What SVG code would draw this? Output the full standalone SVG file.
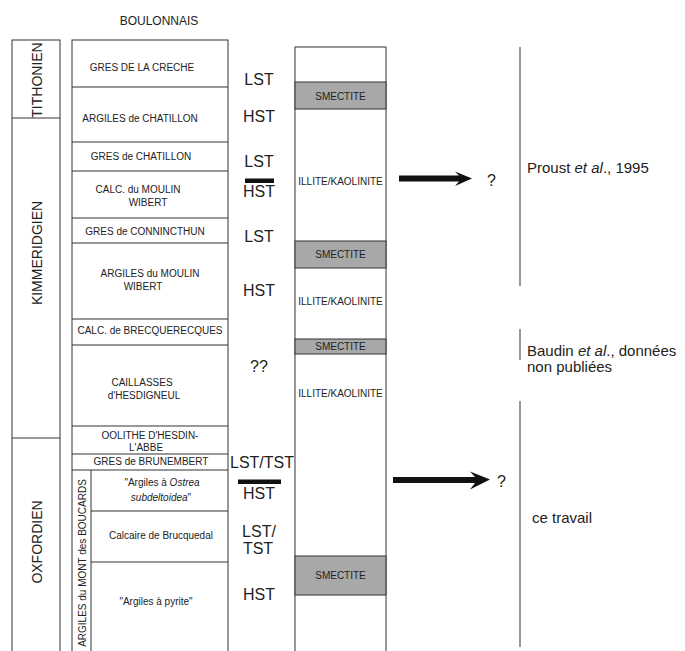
<svg xmlns="http://www.w3.org/2000/svg" width="685" height="651" viewBox="0 0 685 651">
<style>
.ln{stroke:#333;stroke-width:1;fill:none}
.box{stroke:#333;stroke-width:1;fill:#fff}
.sm{stroke:#333;stroke-width:1;fill:#a8a8a8}
.t{font-family:"Liberation Sans",Arial,sans-serif;fill:#222}
.lith{font-size:10px;text-anchor:middle}
.stage{font-size:14px;text-anchor:middle}
.seq{font-size:16px;text-anchor:middle}
.clay{font-size:10px;text-anchor:middle}
.ref{font-size:15px}
.bar{fill:#111}
.vr{stroke:#555;stroke-width:1.2}
</style>
<rect width="685" height="651" fill="#fff"/>
<text class="t" x="159" y="25" font-size="12" text-anchor="middle">BOULONNAIS</text>

<g id="stages">
<rect class="box" x="12" y="40" width="48" height="620"/>
<line class="ln" x1="12" y1="118" x2="60" y2="118"/>
<line class="ln" x1="12" y1="438" x2="60" y2="438"/>
<text class="t stage" transform="translate(42,80) rotate(-90)">TITHONIEN</text>
<text class="t stage" transform="translate(42,253) rotate(-90)">KIMMERIDGIEN</text>
<text class="t stage" transform="translate(42,542) rotate(-90)">OXFORDIEN</text>
</g>

<g id="lithology">
<rect class="box" x="72" y="40" width="156" height="620"/>
<line class="ln" x1="72" y1="87" x2="228" y2="87"/>
<line class="ln" x1="72" y1="142" x2="228" y2="142"/>
<line class="ln" x1="72" y1="171" x2="228" y2="171"/>
<line class="ln" x1="72" y1="218" x2="228" y2="218"/>
<line class="ln" x1="72" y1="243" x2="228" y2="243"/>
<line class="ln" x1="72" y1="319" x2="228" y2="319"/>
<line class="ln" x1="72" y1="345" x2="228" y2="345"/>
<line class="ln" x1="72" y1="426" x2="228" y2="426"/>
<line class="ln" x1="72" y1="454" x2="228" y2="454"/>
<line class="ln" x1="72" y1="470" x2="228" y2="470"/>
<line class="ln" x1="91" y1="470" x2="91" y2="651"/>
<line class="ln" x1="91" y1="511" x2="228" y2="511"/>
<line class="ln" x1="91" y1="562" x2="228" y2="562"/>
<text class="t lith" x="142" y="71">GRES DE LA CRECHE</text>
<text class="t lith" x="140" y="122">ARGILES de CHATILLON</text>
<text class="t lith" x="141" y="160">GRES de CHATILLON</text>
<text class="t lith" x="138" y="193">CALC. du MOULIN</text>
<text class="t lith" x="148" y="206">WIBERT</text>
<text class="t lith" x="145" y="235">GRES de CONNINCTHUN</text>
<text class="t lith" x="150" y="277">ARGILES du MOULIN</text>
<text class="t lith" x="143" y="290">WIBERT</text>
<text class="t lith" x="150" y="334">CALC. de BRECQUERECQUES</text>
<text class="t lith" x="142" y="386">CAILLASSES</text>
<text class="t lith" x="144" y="399">d'HESDIGNEUL</text>
<text class="t lith" x="150" y="439">OOLITHE D'HESDIN-</text>
<text class="t lith" x="146" y="451">L'ABBE</text>
<text class="t lith" x="151" y="465">GRES de BRUNEMBERT</text>
<text class="t lith" x="162" y="486">"Argiles à <tspan font-style="italic">Ostrea</tspan></text>
<text class="t lith" x="161" y="501"><tspan font-style="italic">subdeltoidea</tspan>"</text>
<text class="t lith" x="161" y="539">Calcaire de Brucquedal</text>
<text class="t lith" x="156" y="605">"Argiles à pyrite"</text>
<text class="t lith" transform="translate(85.5,563) rotate(-90)">ARGILES du MONT des BOUCARDS</text>
</g>

<g id="sequences">
<text class="t seq" x="259" y="85">LST</text>
<text class="t seq" x="259" y="122">HST</text>
<text class="t seq" x="259" y="167">LST</text>
<rect class="bar" x="245" y="178.5" width="29" height="4.5"/>
<text class="t seq" x="259" y="197">HST</text>
<text class="t seq" x="259" y="242">LST</text>
<text class="t seq" x="259" y="296">HST</text>
<text class="t seq" x="259" y="372">??</text>
<text class="t seq" x="262" y="468">LST/TST</text>
<rect class="bar" x="238" y="479.5" width="43" height="4.5"/>
<text class="t seq" x="259" y="499">HST</text>
<text class="t seq" x="259" y="537">LST/</text>
<text class="t seq" x="258" y="554">TST</text>
<text class="t seq" x="259" y="600">HST</text>
</g>

<g id="clay">
<rect class="box" x="295" y="47" width="91" height="613"/>
<rect class="sm" x="295" y="82" width="91" height="27"/>
<rect class="sm" x="295" y="241" width="91" height="27"/>
<rect class="sm" x="295" y="339" width="91" height="15"/>
<rect class="sm" x="295" y="556" width="91" height="39"/>
<text class="t clay" x="340.5" y="100">SMECTITE</text>
<text class="t clay" x="340.5" y="258">SMECTITE</text>
<text class="t clay" x="340.5" y="350">SMECTITE</text>
<text class="t clay" x="340.5" y="579">SMECTITE</text>
<text class="t clay" x="340.5" y="185">ILLITE/KAOLINITE</text>
<text class="t clay" x="340.5" y="305">ILLITE/KAOLINITE</text>
<text class="t clay" x="340.5" y="397">ILLITE/KAOLINITE</text>
</g>

<g id="connectors">
<path fill="#111" d="M399,175.5 L459,175.5 L455,171.5 L472,178.5 L455,186 L459,181.5 L399,181.5 Z"/>
<path fill="#111" d="M393,477 L475,477 L470,471.5 L490,479.5 L470,489.5 L475,483 L393,483 Z"/>
</g>

<g id="references">
<text class="t" x="487" y="186" font-size="16">?</text>
<text class="t" x="497" y="487" font-size="16">?</text>
<line class="vr" x1="520" y1="47" x2="520" y2="286"/>
<line class="vr" x1="520" y1="329" x2="520" y2="360"/>
<line class="vr" x1="520" y1="401" x2="520" y2="647"/>
<text class="t ref" x="527" y="173">Proust <tspan font-style="italic">et al</tspan>., 1995</text>
<text class="t ref" x="527" y="356">Baudin <tspan font-style="italic">et al</tspan>., données</text>
<text class="t ref" x="527" y="372">non publiées</text>
<text class="t ref" x="532" y="523">ce travail</text>
</g>
</svg>
